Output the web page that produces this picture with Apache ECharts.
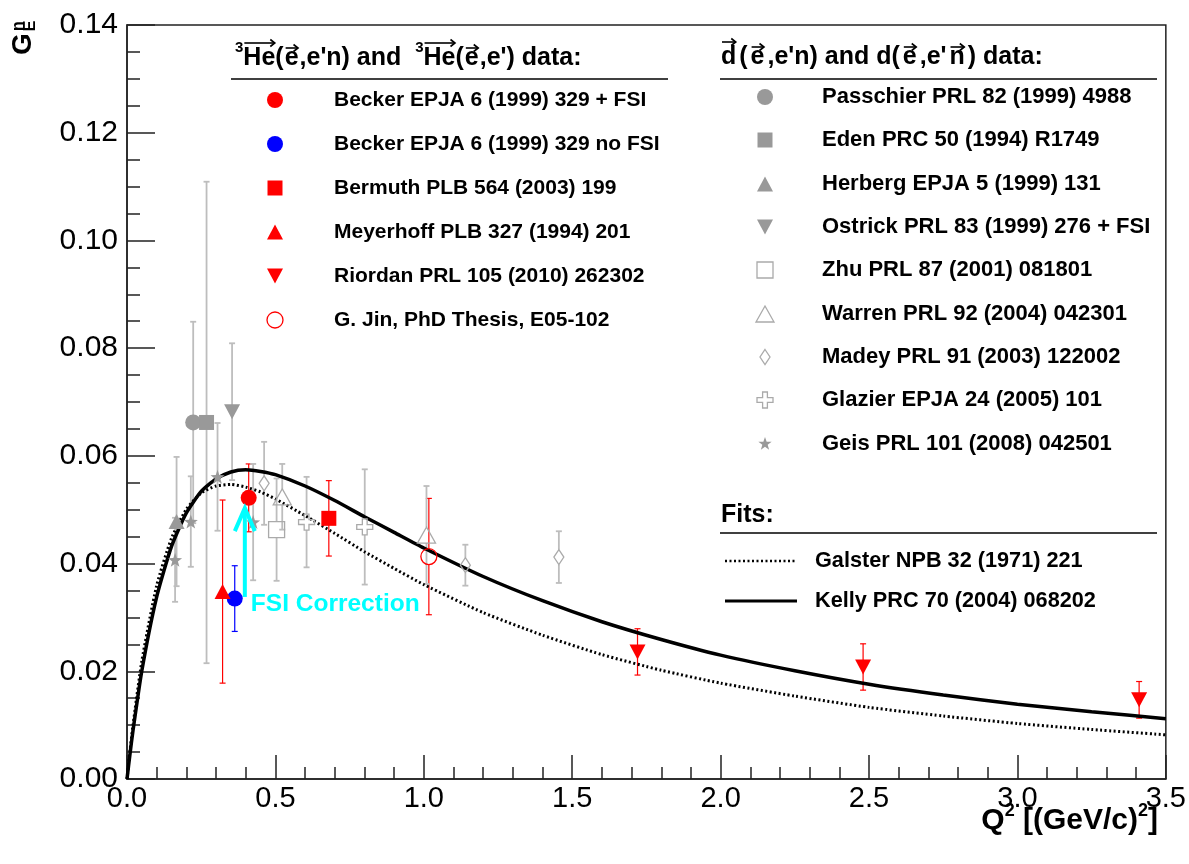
<!DOCTYPE html>
<html><head><meta charset="utf-8">
<script src="https://cdn.jsdelivr.net/npm/echarts@6/dist/echarts.min.js"></script>
<style>html,body{margin:0;padding:0;background:#fff}#c{width:1189px;height:864px}</style>
</head><body><div id="c"></div>
<script>
// ---------- data ----------
const fitQ2 = [0,0.01,0.02,0.05,0.1,0.15,0.2,0.25,0.3,0.35,0.4,0.45,0.5,0.6,0.7,0.8,0.9,1.0,1.2,1.4,1.6,1.8,2.0,2.25,2.5,2.75,3.0,3.25,3.5];
const galsterGE = [0,0.0052,0.0099,0.0219,0.0359,0.0447,0.0501,0.0531,0.0544,0.0547,0.0542,0.0533,0.0520,0.0489,0.0456,0.0422,0.0391,0.0361,0.0309,0.0267,0.0231,0.0202,0.0178,0.0154,0.0133,0.0117,0.0103,0.0092,0.0082];
const kellyGE = [0,0.0046,0.0089,0.0201,0.0338,0.0432,0.0494,0.0534,0.0557,0.0570,0.0574,0.0571,0.0565,0.0544,0.0517,0.0487,0.0458,0.0429,0.0376,0.0331,0.0292,0.0259,0.0230,0.0201,0.0176,0.0156,0.0139,0.0125,0.0112];

// [Q2, GEn, error]
const beckerFSI = [[0.41, 0.0522, 0.0063]];
const beckerNoFSI = [[0.363, 0.0335, 0.0061]];
const bermuth = [[0.68, 0.0484, 0.0070]];
const meyerhoff = [[0.322, 0.0348, 0.0170]];
const riordan = [[1.72, 0.0236, 0.0043], [2.48, 0.0208, 0.0043], [3.41, 0.0147, 0.0034]];
const jin = [[1.017, 0.0413, 0.0108]];
const passchier = [[0.223, 0.0662, 0.0187]];
const eden = [[0.268, 0.0662, 0.0447]];
const herberg = [[0.167, 0.0478, 0.0120]];
const ostrick = [[0.354, 0.0682, 0.0127]];
const zhu = [[0.504, 0.0463, 0.0095]];
const warren = [[0.523, 0.0524, 0.0061], [1.009, 0.0453, 0.0091]];
const madey = [[0.462, 0.0549, 0.0077], [1.14, 0.0397, 0.0038], [1.455, 0.0412, 0.0048]];
const glazier = [[0.605, 0.0477, 0.0084], [0.801, 0.0468, 0.0107]];
const geis = [[0.162, 0.0407, 0.0078], [0.215, 0.0478, 0.0084], [0.305, 0.0561, 0.0100], [0.425, 0.0477, 0.0108]];

const fsiArrow = [[0.397, 0.0338, 0.0503]]; // [Q2, from, to]
const fsiLabel = 'FSI Correction';

const xTickLabels = ['0.0','0.5','1.0','1.5','2.0','2.5','3.0','3.5'];
const yTickLabels = ['0.00','0.02','0.04','0.06','0.08','0.10','0.12','0.14'];

// ---------- marker shapes (unit box 0..100) ----------
const SH = {
  sq: [[0,0],[100,0],[100,100],[0,100]],
  tri: [[50,0],[100,100],[0,100]],
  triDown: [[0,0],[100,0],[50,100]],
  diamond: [[50,0],[100,50],[50,100],[0,50]],
  cross: [[35,0],[65,0],[65,35],[100,35],[100,65],[65,65],[65,100],[35,100],[35,65],[0,65],[0,35],[35,35]],
  star: [[50,0],[61.8,33.8],[97.6,34.5],[69,56.2],[79.4,90.5],[50,70],[20.6,90.5],[31,56.2],[2.4,34.5],[38.2,33.8]]
};
function toPath(pts){ return 'path://M' + pts.map(p=>p[0]+' '+p[1]).join(' L') + ' Z'; }

const RED = '#ff0000', BLUE = '#0000ff', GRAY = '#999999', LGRAY = '#aaaaaa', BARGRAY = '#bdbdbd';

const groups = [
  {name:'Becker EPJA 6 (1999) 329 + FSI', data:beckerFSI, sym:'circle', size:[16,16], fill:RED, stroke:RED, bar:RED, bw:1.2, gap:0},
  {name:'Becker EPJA 6 (1999) 329 no FSI', data:beckerNoFSI, sym:'circle', size:[16,16], fill:BLUE, stroke:BLUE, bar:BLUE, bw:1.2, gap:0},
  {name:'Bermuth PLB 564 (2003) 199', data:bermuth, sym:'sq', size:[15,15], fill:RED, stroke:RED, bar:RED, bw:1.2, gap:0},
  {name:'Meyerhoff PLB 327 (1994) 201', data:meyerhoff, sym:'tri', size:[16,15], fill:RED, stroke:RED, bar:RED, bw:1.2, gap:0},
  {name:'Riordan PRL 105 (2010) 262302', data:riordan, sym:'triDown', size:[16,15], fill:RED, stroke:RED, bar:RED, bw:1.2, gap:0},
  {name:'G. Jin, PhD Thesis, E05-102', data:jin, sym:'circle', size:[16,16], fill:'transparent', stroke:RED, bar:RED, bw:1.2, gap:8},
  {name:'Passchier PRL 82 (1999) 4988', data:passchier, sym:'circle', size:[16,16], fill:GRAY, stroke:GRAY, bar:BARGRAY, bw:1.8, gap:0},
  {name:'Eden PRC 50 (1994) R1749', data:eden, sym:'sq', size:[15,15], fill:GRAY, stroke:GRAY, bar:BARGRAY, bw:1.8, gap:0},
  {name:'Herberg EPJA 5 (1999) 131', data:herberg, sym:'tri', size:[16,15], fill:GRAY, stroke:GRAY, bar:BARGRAY, bw:1.8, gap:0},
  {name:'Ostrick PRL 83 (1999) 276 + FSI', data:ostrick, sym:'triDown', size:[16,15], fill:GRAY, stroke:GRAY, bar:BARGRAY, bw:1.8, gap:0},
  {name:'Zhu PRL 87 (2001) 081801', data:zhu, sym:'sq', size:[16,16], fill:'transparent', stroke:LGRAY, bar:BARGRAY, bw:1.8, gap:8},
  {name:'Warren PRL 92 (2004) 042301', data:warren, sym:'tri', size:[18,16], fill:'transparent', stroke:LGRAY, bar:BARGRAY, bw:1.8, gap:8},
  {name:'Madey PRL 91 (2003) 122002', data:madey, sym:'diamond', size:[10,15], fill:'transparent', stroke:LGRAY, bar:BARGRAY, bw:1.8, gap:7.5},
  {name:'Glazier EPJA 24 (2005) 101', data:glazier, sym:'cross', size:[16,16], fill:'transparent', stroke:LGRAY, bar:BARGRAY, bw:1.8, gap:8},
  {name:'Geis PRL 101 (2008) 042501', data:geis, sym:'star', size:[14,14], fill:GRAY, stroke:GRAY, bar:BARGRAY, bw:1.8, gap:0}
];

function errorBarRender(color, width, gap, cap){
  return function(params, api){
    const x = api.value(0), y = api.value(1), e = api.value(2);
    const c = api.coord([x, y]), t = api.coord([x, y + e]), b = api.coord([x, y - e]);
    const st = {stroke:color, lineWidth:width};
    const ch = [];
    if (t[1] < c[1] - gap) ch.push({type:'line', shape:{x1:c[0], y1:c[1]-gap, x2:c[0], y2:t[1]}, style:st});
    if (b[1] > c[1] + gap) ch.push({type:'line', shape:{x1:c[0], y1:c[1]+gap, x2:c[0], y2:b[1]}, style:st});
    ch.push({type:'line', shape:{x1:c[0]-cap, y1:t[1], x2:c[0]+cap, y2:t[1]}, style:st});
    ch.push({type:'line', shape:{x1:c[0]-cap, y1:b[1], x2:c[0]+cap, y2:b[1]}, style:st});
    return {type:'group', children:ch};
  };
}

const series = [];
groups.forEach(g => {
  series.push({type:'custom', name:g.name+' err', data:g.data, encode:{x:0, y:1}, z:2, silent:true,
    renderItem: errorBarRender(g.bar, g.bw, g.gap, 3)});
});
series.push({type:'line', name:'Galster NPB 32 (1971) 221', data:fitQ2.map((q,i)=>[q, galsterGE[i]]),
  showSymbol:false, symbol:'none', smooth:0.2, z:5,
  lineStyle:{color:'#000', width:3, type:[2,2.5]}});
series.push({type:'line', name:'Kelly PRC 70 (2004) 068202', data:fitQ2.map((q,i)=>[q, kellyGE[i]]),
  showSymbol:false, symbol:'none', smooth:0.2, z:5,
  lineStyle:{color:'#000', width:3.5}});
groups.forEach(g => {
  const hollow = g.fill === 'transparent';
  series.push({type:'scatter', name:g.name, data:g.data.map(d=>[d[0], d[1]]),
    symbol: g.sym === 'circle' ? 'circle' : toPath(SH[g.sym]), symbolSize:g.size, z:6,
    itemStyle:{color:g.fill, borderColor:g.stroke, borderWidth:hollow?1.3:0, opacity:1}});
});
// FSI arrow + label
series.push({type:'custom', name:'fsi', data:fsiArrow, encode:{x:0, y:[1,2]}, z:7, silent:true,
  renderItem:function(params, api){
    const x = api.value(0), y0 = api.value(1), y1 = api.value(2);
    const a = api.coord([x, y0]), b = api.coord([x, y1]);
    const st = {stroke:'#00ffff', lineWidth:4, fill:'none'};
    return {type:'group', children:[
      {type:'line', shape:{x1:a[0], y1:a[1], x2:b[0], y2:b[1]+2}, style:st},
      {type:'polyline', shape:{points:[[b[0]-10, b[1]+23],[b[0], b[1]],[b[0]+10, b[1]+23]]}, style:st},
      {type:'text', x:a[0]+6, y:a[1]+7, style:{text:fsiLabel, fill:'#00ffff', font:'bold 24.5px "Liberation Sans", Arial, sans-serif', align:'left', verticalAlign:'middle'}}
    ]};
  }});

// ---------- legend drawn as graphics ----------
const FONT_ITEM1 = 'bold 21px "Liberation Sans", Arial, sans-serif';
const FONT_ITEM2 = 'bold 22px "Liberation Sans", Arial, sans-serif';
const FONT_FIT = 'bold 21.7px "Liberation Sans", Arial, sans-serif';
const FONT_HEAD = 'bold 25px "Liberation Sans", Arial, sans-serif';
const FONT_SUP = 'bold 15px "Liberation Sans", Arial, sans-serif';
function markerGraphic(g, cx, cy){
  const w = g.size[0], h = g.size[1];
  const hollow = g.fill === 'transparent';
  const style = {fill:hollow?'none':g.fill, stroke:g.stroke, lineWidth:hollow?1.3:0};
  if (g.sym === 'circle') return {type:'circle', shape:{cx:cx, cy:cy, r:w/2}, style:style};
  return {type:'polygon', shape:{points:SH[g.sym].map(p=>[cx - w/2 + p[0]*w/100, cy - h/2 + p[1]*h/100])}, style:style};
}
const graphics = [];
const leg1Rows = [100, 144, 188, 232, 276, 320];
groups.slice(0,6).forEach((g,i)=>{
  graphics.push(markerGraphic(g, 275, leg1Rows[i]));
  graphics.push({type:'text', x:334, y:leg1Rows[i], style:{text:g.name, font:FONT_ITEM1, fill:'#000', verticalAlign:'middle'}});
});
const leg2Rows = [97, 140, 184, 227, 270, 314, 357, 400, 444];
groups.slice(6).forEach((g,i)=>{
  graphics.push(markerGraphic(g, 765, leg2Rows[i]));
  graphics.push({type:'text', x:822, y:leg2Rows[i], style:{text:g.name, font:FONT_ITEM2, fill:'#000', verticalAlign:'middle'}});
});

// headers with vector arrows (ROOT #vec style)
const mctx = document.createElement('canvas').getContext('2d');
function arrowOver(x1, x2, y){
  graphics.push({type:'line', shape:{x1:x1, y1:y, x2:x2, y2:y}, style:{stroke:'#000', lineWidth:1.6}});
  graphics.push({type:'polyline', shape:{points:[[x2-4.5, y-3.5],[x2, y],[x2-4.5, y+3.5]]}, style:{stroke:'#000', lineWidth:1.6, fill:'none'}});
}
function header(x, y, pieces){
  let cx = x;
  pieces.forEach(p => {
    const f = p.sup ? FONT_SUP : FONT_HEAD;
    mctx.font = f;
    const w = mctx.measureText(p.t).width;
    const px = cx + (p.padL || 0);
    graphics.push({type:'text', x:px, y:p.sup ? y - 10 : y, style:{text:p.t, font:f, fill:'#000', verticalAlign:'middle'}});
    if (p.vec) arrowOver(px + 1, px + w - 0.5, y - p.vec);
    cx = px + w + (p.padR || 0);
  });
}
header(235, 58, [
  {t:'3', sup:true}, {t:'He', vec:15}, {t:'('}, {t:'e', vec:10, padL:1, padR:1}, {t:",e'n) and  "},
  {t:'3', sup:true}, {t:'He', vec:15}, {t:'('}, {t:'e', vec:10, padL:1, padR:1}, {t:",e') data:"}
]);
graphics.push({type:'line', shape:{x1:231, y1:79, x2:668, y2:79}, style:{stroke:'#000', lineWidth:1.5}});
header(721, 57, [
  {t:'d', vec:15, padR:3}, {t:'('}, {t:'e', vec:10, padL:3, padR:3}, {t:",e'n) and d("},
  {t:'e', vec:10, padL:3, padR:3}, {t:",e'"}, {t:'n', vec:10, padL:3, padR:3}, {t:') data:'}
]);
graphics.push({type:'line', shape:{x1:720, y1:79, x2:1157, y2:79}, style:{stroke:'#000', lineWidth:1.5}});

// fits legend
graphics.push({type:'text', x:721, y:515, style:{text:'Fits:', font:FONT_HEAD, fill:'#000', verticalAlign:'middle'}});
graphics.push({type:'line', shape:{x1:720, y1:533, x2:1157, y2:533}, style:{stroke:'#000', lineWidth:1.5}});
graphics.push({type:'line', shape:{x1:725, y1:561, x2:797, y2:561}, style:{stroke:'#000', lineWidth:2.5, lineDash:[2,2.5]}});
graphics.push({type:'text', x:815, y:561, style:{text:'Galster NPB 32 (1971) 221', font:FONT_FIT, fill:'#000', verticalAlign:'middle'}});
graphics.push({type:'line', shape:{x1:725, y1:601, x2:797, y2:601}, style:{stroke:'#000', lineWidth:3}});
graphics.push({type:'text', x:815, y:601, style:{text:'Kelly PRC 70 (2004) 068202', font:FONT_FIT, fill:'#000', verticalAlign:'middle'}});

// axis titles
graphics.push({type:'text', x:23, y:44, rotation:Math.PI/2, style:{text:'G', font:'bold 28px "Liberation Sans", Arial, sans-serif', fill:'#000', align:'center', verticalAlign:'middle'}});
graphics.push({type:'text', x:31, y:26, rotation:Math.PI/2, style:{text:'E', font:'bold 16px "Liberation Sans", Arial, sans-serif', fill:'#000', align:'center', verticalAlign:'middle'}});
graphics.push({type:'text', x:19, y:26, rotation:Math.PI/2, style:{text:'n', font:'bold 16px "Liberation Sans", Arial, sans-serif', fill:'#000', align:'center', verticalAlign:'middle'}});
(function(){
  // "Q² [(GeV/c)²]" right-aligned at x=1158
  const big = 'bold 30px "Liberation Sans", Arial, sans-serif', sm = 'bold 18px "Liberation Sans", Arial, sans-serif';
  const parts = [{t:'Q', f:big}, {t:'2', f:sm, sup:true}, {t:' [(GeV/c)', f:big}, {t:'2', f:sm, sup:true}, {t:']', f:big}];
  let total = 0;
  parts.forEach(p => { mctx.font = p.f; p.w = mctx.measureText(p.t).width; total += p.w; });
  let cx = 1158 - total;
  parts.forEach(p => {
    graphics.push({type:'text', x:cx, y:p.sup ? 811 : 821, style:{text:p.t, font:p.f, fill:'#000', verticalAlign:'middle'}});
    cx += p.w;
  });
})();

const axisCommon = {
  axisLine:{show:true, lineStyle:{color:'#222', width:1.5}},
  axisTick:{show:true, inside:true, lineStyle:{color:'#222', width:1.5}},
  minorTick:{show:true, lineStyle:{color:'#222', width:1.5}},
  splitLine:{show:false}, minorSplitLine:{show:false}
};
const option = {
  animation:false,
  backgroundColor:'#fff',
  grid:{left:127, right:22, top:25, bottom:85, show:true, borderColor:'#222', borderWidth:1.5},
  xAxis:Object.assign({}, axisCommon, {type:'value', min:0, max:3.5, interval:0.5,
    axisTick:Object.assign({}, axisCommon.axisTick, {length:24}),
    minorTick:Object.assign({}, axisCommon.minorTick, {splitNumber:5, length:12}),
    axisLabel:{fontSize:29, color:'#000', fontFamily:'Liberation Sans', margin:5,
      formatter:(v)=>xTickLabels[Math.round(v/0.5)]}}),
  yAxis:Object.assign({}, axisCommon, {type:'value', min:0, max:0.14, interval:0.02,
    axisTick:Object.assign({}, axisCommon.axisTick, {length:28}),
    minorTick:Object.assign({}, axisCommon.minorTick, {splitNumber:4, length:13}),
    axisLabel:{fontSize:30, color:'#000', fontFamily:'Liberation Sans', margin:9,
      formatter:(v)=>yTickLabels[Math.round(v/0.02)]}}),
  series:series,
  graphic:graphics
};
const chart = echarts.init(document.getElementById('c'), null, {renderer:'canvas'});
chart.setOption(option);
</script></body></html>
